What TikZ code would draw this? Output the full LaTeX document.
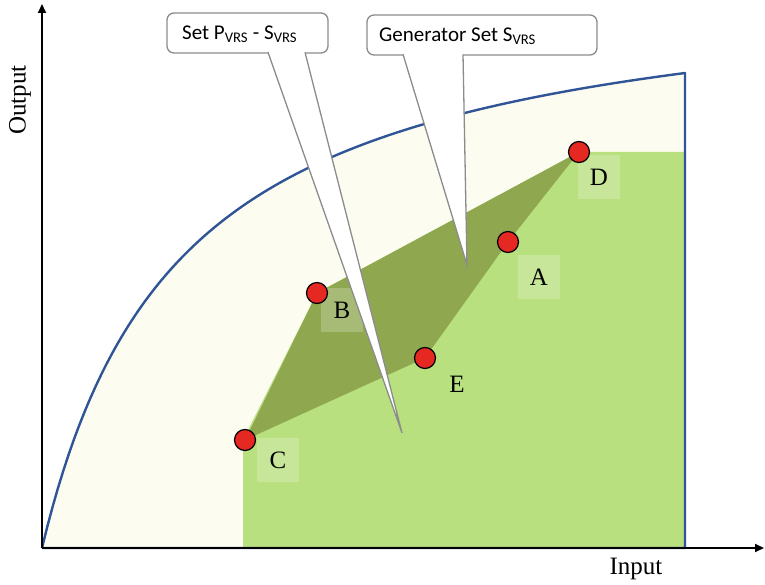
\documentclass[tikz,border=0pt]{standalone}
\usepackage{fontspec}
\setmainfont{Liberation Serif}
\newfontfamily\calloutfont{Carlito}
\usetikzlibrary{arrows.meta}
\definecolor{cream}{RGB}{252,252,240}
\definecolor{lgreen}{RGB}{184,224,126}
\definecolor{dgreen}{RGB}{143,168,80}
\definecolor{curveblue}{RGB}{47,85,151}
\definecolor{ptred}{RGB}{230,40,35}
\definecolor{callgray}{RGB}{140,140,140}
\tikzset{
  axis/.style={line width=2pt, black, -{Triangle[length=9pt,width=8pt]}},
  pt/.style={circle, fill=ptred, draw=black, line width=1.2pt, minimum size=21pt, inner sep=0pt},
  lbl/.style={font=\fontsize{25}{30}\selectfont, minimum width=42pt, minimum height=44pt, inner sep=0pt},
  lblbox/.style={lbl, fill=white, fill opacity=0.22, text opacity=1},
  callbox/.style={draw=callgray, line width=1.3pt, fill=white, rounded corners=7pt, inner sep=0pt},
  calltext/.style={font=\calloutfont\fontsize{21}{24}\selectfont, anchor=west, inner sep=0pt},
  tailline/.style={draw=callgray, line width=1.3pt},
}
\begin{document}
\begin{tikzpicture}[x=1pt,y=-1pt]
\useasboundingbox (0,0) rectangle (765,585);
% cream region under the frontier
\fill[cream] plot[domain=0:643, samples=120] ({42+\x}, {548-576.7*(\x/(\x+137.7))}) -- (685,548) -- cycle;
% light green region
\fill[lgreen] (243,548) -- (243,440) -- (317,293) -- (579,152) -- (685,152) -- (685,548) -- cycle;
% dark polygon
\fill[dgreen] (245,440) -- (317,293) -- (579,152) -- (508,242) -- (425,358) -- cycle;
% frontier
\draw[curveblue, line width=2.4pt, line join=round] plot[domain=0:643, samples=120] ({42+\x}, {548-576.7*(\x/(\x+137.7))}) -- (685,548) -- (42,548);
% label boxes
\node[lblbox] (lD) at (599,177) {D};
\node[lblbox] (lA) at (539,277) {A};
\node[lblbox] (lB) at (342,310) {B};
\node[lbl] (lE) at (457,384) {E};
\node[lblbox] (lC) at (278,460) {C};
% points
\node[pt] (D) at (579,152) {};
\node[pt] (A) at (508,242) {};
\node[pt] (B) at (317,293) {};
\node[pt] (E) at (425,358) {};
\node[pt] (C) at (245,440) {};
% axes
\coordinate (O) at (42,548);
\coordinate (ytop) at (42,4);
\coordinate (xend) at (764,548);
\draw[axis] (O) -- (ytop);
\draw[axis] (O) -- (xend);
\node[font=\fontsize{25}{30}\selectfont, rotate=90] (out) at (20,100) {Output};
\node[font=\fontsize{25}{30}\selectfont] (in) at (636,569) {Input};
% callout 1
\node[callbox, minimum width=161pt, minimum height=40pt] (cb1) at (247.5,33) {};
\coordinate (t1a) at (268,51);
\coordinate (t1b) at (305,51);
\coordinate (t1tip) at (402,433);
\fill[white] (t1a) -- (t1tip) -- (t1b) -- cycle;
\draw[tailline] ([yshift=-1.3pt]t1a) -- (t1tip) -- ([yshift=-1.3pt]t1b);
\node[calltext] (ct1) at (182,34) {Set P\textsubscript{VRS} - S\textsubscript{VRS}};
% callout 2
\node[callbox, minimum width=230pt, minimum height=40pt] (cb2) at (482,35) {};
\coordinate (t2a) at (403,53);
\coordinate (t2b) at (463,53);
\coordinate (t2tip) at (467,265);
\fill[white] (t2a) -- (t2tip) -- (t2b) -- cycle;
\draw[tailline] ([yshift=-1.3pt]t2a) -- (t2tip) -- ([yshift=-1.3pt]t2b);
\node[calltext] (ct2) at (379,36) {Generator Set S\textsubscript{VRS}};
\end{tikzpicture}
\end{document}
